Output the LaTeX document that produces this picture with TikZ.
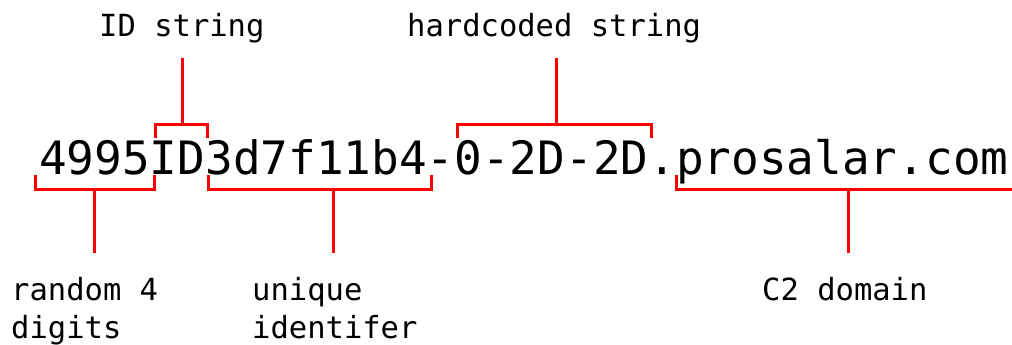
\documentclass[tikz,border=0pt]{standalone}
\usepackage{fontspec}
\setmonofont{DejaVu Sans Mono}
\begin{document}
\begin{tikzpicture}[x=1pt,y=-1pt,
  brace/.style={draw=red,line width=3pt,line join=miter},
  bigtxt/.style={font=\ttfamily\fontsize{46}{50}\selectfont,inner sep=0pt,anchor=base west},
  lbl/.style={font=\ttfamily\fontsize{30.5}{38}\selectfont,inner sep=0pt,anchor=base west,align=left}]
\useasboundingbox (0,0) rectangle (1012,345);
% main string
\node[bigtxt] (s) at (39,174) {4995ID3d7f11b4-0-2D-2D.prosalar.com};
% labels
\node[lbl] (idl) at (99,37) {ID string};
\node[lbl] (hcl) at (407,37) {hardcoded string};
\node[lbl] (rnd) at (11,338) {random 4\\digits};
\node[lbl] (uni) at (252,338) {unique\\identifer};
\node[lbl] (c2) at (762,300) {C2 domain};
% top brackets
\coordinate (idt) at (182,58);
\coordinate (idm) at (182,124);
\draw[brace] (155,138) |- (207,124) -- (207,138);
\draw[brace] (idt) -- (idm);
\coordinate (hct) at (556,58);
\coordinate (hcm) at (556,124);
\draw[brace] (457,138) |- (651,124) -- (651,138);
\draw[brace] (hct) -- (hcm);
% bottom brackets
\coordinate (rm) at (94,189);
\coordinate (rb) at (94,253);
\draw[brace] (35,175) |- (154,189) -- (154,175);
\draw[brace] (rm) -- (rb);
\coordinate (um) at (333,189);
\coordinate (ub) at (333,253);
\draw[brace] (208,175) |- (431,189) -- (431,175);
\draw[brace] (um) -- (ub);
\coordinate (cm) at (848,189);
\coordinate (cb) at (848,253);
\draw[brace] (676,175) |- (1012,189);
\draw[brace] (cm) -- (cb);
\end{tikzpicture}
\end{document}
